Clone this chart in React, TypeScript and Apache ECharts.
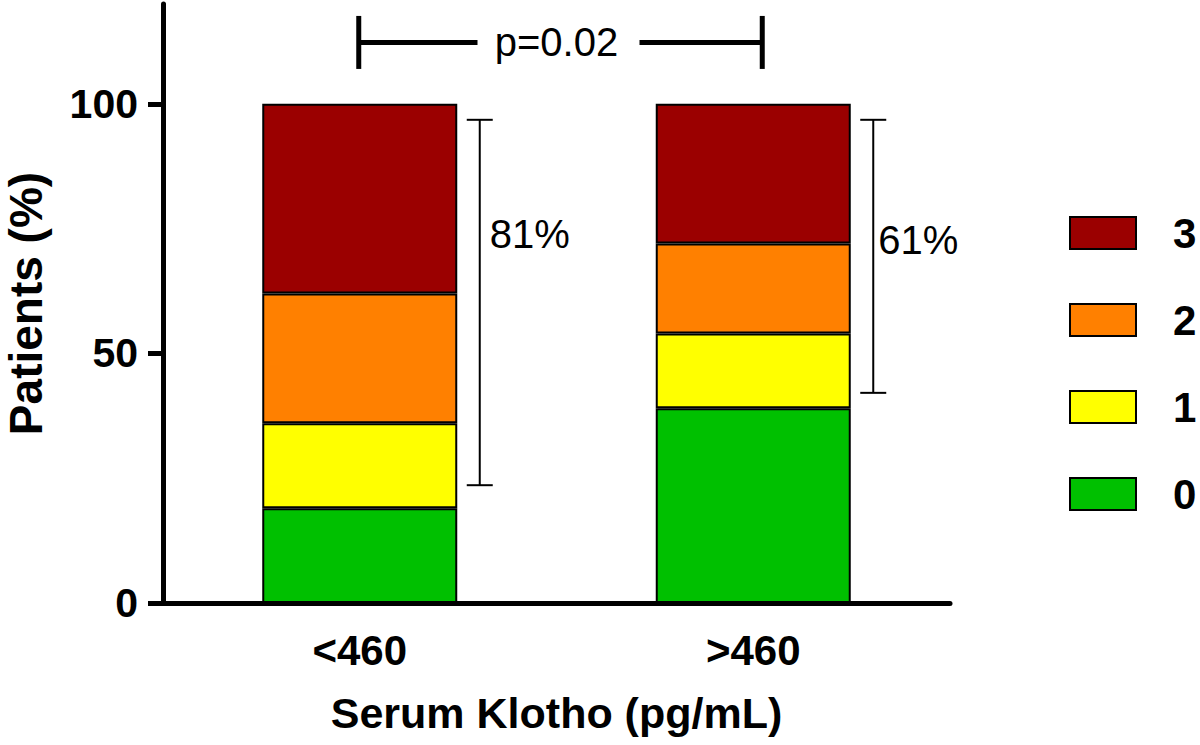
import React, { useEffect, useRef } from "react";
import * as echarts from "echarts";

const categories = ["<460", ">460"];
const seriesNames = ["0", "1", "2", "3"];
const grade0 = [19, 39];
const grade1 = [17, 15];
const grade2 = [26, 18];
const grade3 = [38, 28];
const legendOrder = ["3", "2", "1", "0"];
const yTicks = [0, 50, 100];

const bracketLow = [23.6, 42.1];
const bracketHigh = [96.8, 96.8];
const bracketLabelLevel = [74, 72.7];
const bracketLabels = ["81%", "61%"];
const pValueLabel = "p=0.02";
const pBracketLevel = 112.3;

const FONT = "'Liberation Sans', Arial, Helvetica, sans-serif";
const colors = ["#00C000", "#FFFF00", "#FF8000", "#9B0000"];
const labelOffsets = [10, 5];

export default function App() {
  const ref = useRef<HTMLDivElement>(null);
  useEffect(() => {
    if (!ref.current) return;
    const chart = echarts.init(ref.current, null, { renderer: "svg" });
    const values = [grade0, grade1, grade2, grade3];
    const barSeries = seriesNames.map((name, i) => ({
      name,
      type: "bar",
      stack: "total",
      barWidth: 195,
      data: values[i],
      itemStyle: { color: colors[i], borderColor: "#000", borderWidth: 2 },
    }));
    const option: any = {
      animation: false,
      backgroundColor: "#fff",
      textStyle: { fontFamily: FONT },
      grid: { left: 163, right: 250, top: 4, bottom: 142, containLabel: false, outerBoundsMode: "none" },
      legend: {
        data: legendOrder,
        orient: "vertical",
        left: 1064,
        top: 207,
        itemWidth: 66,
        itemHeight: 32,
        itemGap: 45,
        icon: "rect",
        selectedMode: false,
        textStyle: {
          fontFamily: FONT,
          fontSize: 42,
          fontWeight: "bold",
          color: "#000",
          lineHeight: 32,
          padding: [0, 0, 0, 32],
        },
      },
      xAxis: {
        type: "category",
        data: categories,
        name: "Serum Klotho (pg/mL)",
        nameLocation: "middle",
        nameGap: 88,
        nameTextStyle: { fontFamily: FONT, fontSize: 43, fontWeight: "bold", color: "#000" },
        axisLine: { lineStyle: { color: "#000", width: 5 } },
        axisTick: { alignWithLabel: true, length: 17, lineStyle: { color: "#000", width: 5 } },
        axisLabel: { fontFamily: FONT, fontSize: 42, fontWeight: "bold", color: "#000", margin: 26 },
      },
      yAxis: {
        type: "value",
        min: 0,
        max: 120,
        interval: 50,
        name: "Patients (%)",
        nameLocation: "middle",
        nameRotate: 90,
        nameGap: 114,
        nameTextStyle: { fontFamily: FONT, fontSize: 46, fontWeight: "bold", color: "#000", lineHeight: 46 },
        splitLine: { show: false },
        axisLine: { show: true, lineStyle: { color: "#000", width: 5 } },
        axisTick: { show: true, length: 15, lineStyle: { color: "#000", width: 5 }, customValues: yTicks },
        axisLabel: { fontFamily: FONT, fontSize: 41, fontWeight: "bold", color: "#000", margin: 25, customValues: yTicks },
      },
      series: [
        ...barSeries,
        {
          type: "custom",
          name: "brackets",
          data: bracketLow.map((lo, i) => [i, lo, bracketHigh[i], bracketLabelLevel[i]]),
          renderItem: (params: any, api: any) => {
            const i = params.dataIndex;
            const top = api.coord([api.value(0), api.value(2)]);
            const bot = api.coord([api.value(0), api.value(1)]);
            const lab = api.coord([api.value(0), api.value(3)]);
            const x = top[0] + 120;
            const st = { stroke: "#000", lineWidth: 2 };
            return {
              type: "group",
              children: [
                { type: "line", shape: { x1: x, y1: top[1], x2: x, y2: bot[1] }, style: st },
                { type: "line", shape: { x1: x - 13, y1: top[1], x2: x + 13, y2: top[1] }, style: st },
                { type: "line", shape: { x1: x - 13, y1: bot[1], x2: x + 13, y2: bot[1] }, style: st },
                {
                  type: "text",
                  style: {
                    text: bracketLabels[i],
                    x: x + labelOffsets[i],
                    y: lab[1],
                    fontSize: 40,
                    fontFamily: FONT,
                    fill: "#000",
                    align: "left",
                    verticalAlign: "middle",
                  },
                },
              ],
            };
          },
        },
        {
          type: "custom",
          name: "pvalue",
          data: [[0, 1, pBracketLevel]],
          renderItem: (params: any, api: any) => {
            const l = api.coord([api.value(0), api.value(2)]);
            const r = api.coord([api.value(1), api.value(2)]);
            const xl = l[0] - 1;
            const xr = r[0] + 9;
            const y = l[1];
            const cx = (l[0] + r[0]) / 2;
            const st = { stroke: "#000", lineWidth: 5 };
            return {
              type: "group",
              children: [
                { type: "line", shape: { x1: xl, y1: y, x2: cx - 79, y2: y }, style: st },
                { type: "line", shape: { x1: cx + 83, y1: y, x2: xr, y2: y }, style: st },
                { type: "line", shape: { x1: xl, y1: y - 26.5, x2: xl, y2: y + 26.5 }, style: st },
                { type: "line", shape: { x1: xr, y1: y - 26.5, x2: xr, y2: y + 26.5 }, style: st },
                {
                  type: "text",
                  style: {
                    text: pValueLabel,
                    x: cx,
                    y: y,
                    fontSize: 40,
                    fontFamily: FONT,
                    fill: "#000",
                    align: "center",
                    verticalAlign: "middle",
                  },
                },
              ],
            };
          },
        },
      ],
    };
    chart.setOption(option);
    return () => chart.dispose();
  }, []);
  return <div ref={ref} style={{ width: 1200, height: 745, position: "absolute", left: 0, top: 0 }} />;
}
